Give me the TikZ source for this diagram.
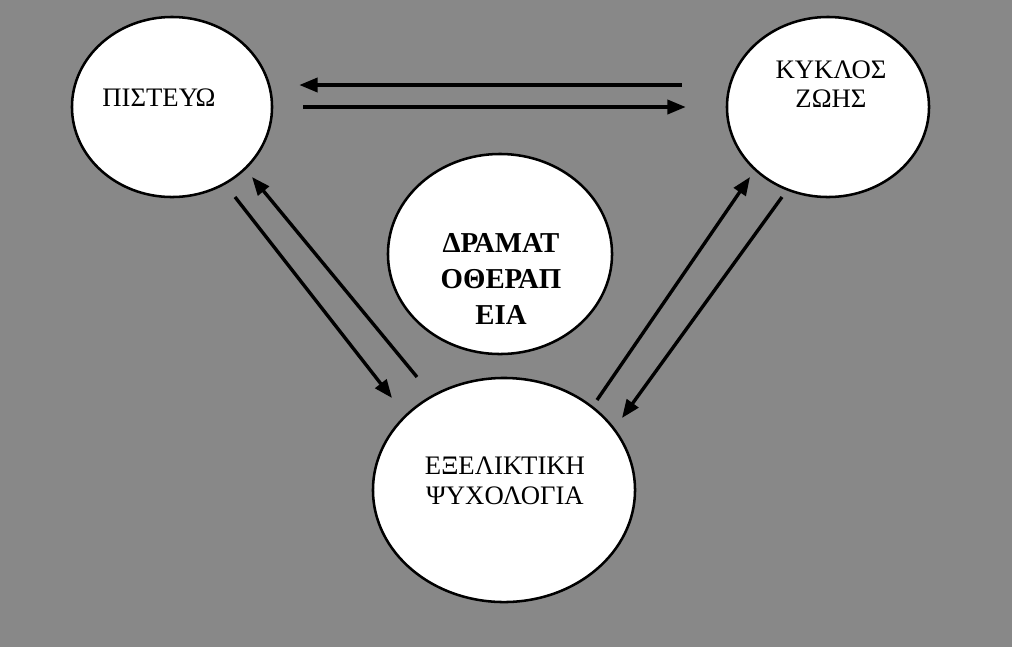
\documentclass[tikz,border=0pt]{standalone}
\usepackage{fontspec}
\setmainfont{Liberation Serif}
\usepackage{tikz}
\usetikzlibrary{
  shapes.geometric
  , calc
  % for arrow tips
  , arrows.meta
}

\definecolor{scanGray}{RGB}{136,136,136}

\tikzset{
  bubble/.style={draw, ellipse, fill=white, line width=1.8pt, inner sep=0pt},
  word/.style={align=center, font=\fontsize{19}{21}\selectfont},
  boldword/.style={align=center, font=\fontsize{20.5}{25.5}\selectfont\bfseries},
  link/.style={-{Triangle[length=13pt, width=10pt]}, line width=2.4pt, black},
}

\begin{document}
\begin{tikzpicture}[x=0.025cm, y=-0.025cm]
      % background
      \fill[scanGray] (0,0) rectangle (1012,647);
      \useasboundingbox (0,0) rectangle (1012,647);

      \node [bubble,
        minimum width=5cm,
        minimum height=4.5cm,
      ] (pisteuo) at (172,107){};
      \node [bubble,
        minimum width=5.05cm,
        minimum height=4.5cm,
      ] (kyklos) at (828,107){};
      \node [bubble,
        minimum width=5.6cm,
        minimum height=5cm,
      ] (drama) at (500,254){};
      \node [bubble,
        minimum width=6.55cm,
        minimum height=5.6cm,
      ] (exel) at (504,490){};

      \node[word] (pisteuoText) at (159,98) {ΠΙΣΤΕΥΩ};
      \node[word] (kyklosText) at (831,84) {ΚΥΚΛΟΣ\\ΖΩΗΣ};
      \node[boldword] (dramaText) at (501,279) {ΔΡΑΜΑΤ\\ΟΘΕΡΑΠ\\ΕΙΑ};
      \node[word] (exelText) at (505,481) {ΕΞΕΛΙΚΤΙΚΗ\\ΨΥΧΟΛΟΓΙΑ};

      \draw[link] ([shift={(-44,-22)}]kyklos.west) -- ([shift={(26,-22)}]pisteuo.east);
      \draw[link] ([shift={(30,0)}]pisteuo.east) -- ([shift={(-40,0)}]kyklos.west);
      \draw[link] ([shift={(-87,-113)}]exel.center) -- ([shift={(80,70)}]pisteuo.center);
      \draw[link] ([shift={(63,90)}]pisteuo.center) -- ([shift={(-112,-92)}]exel.center);
      \draw[link] ([shift={(93,-90)}]exel.center) -- ([shift={(-78,70)}]kyklos.center);
      \draw[link] ([shift={(-46,90)}]kyklos.center) -- ([shift={(118,-72)}]exel.center);
    \end{tikzpicture}
\end{document}
